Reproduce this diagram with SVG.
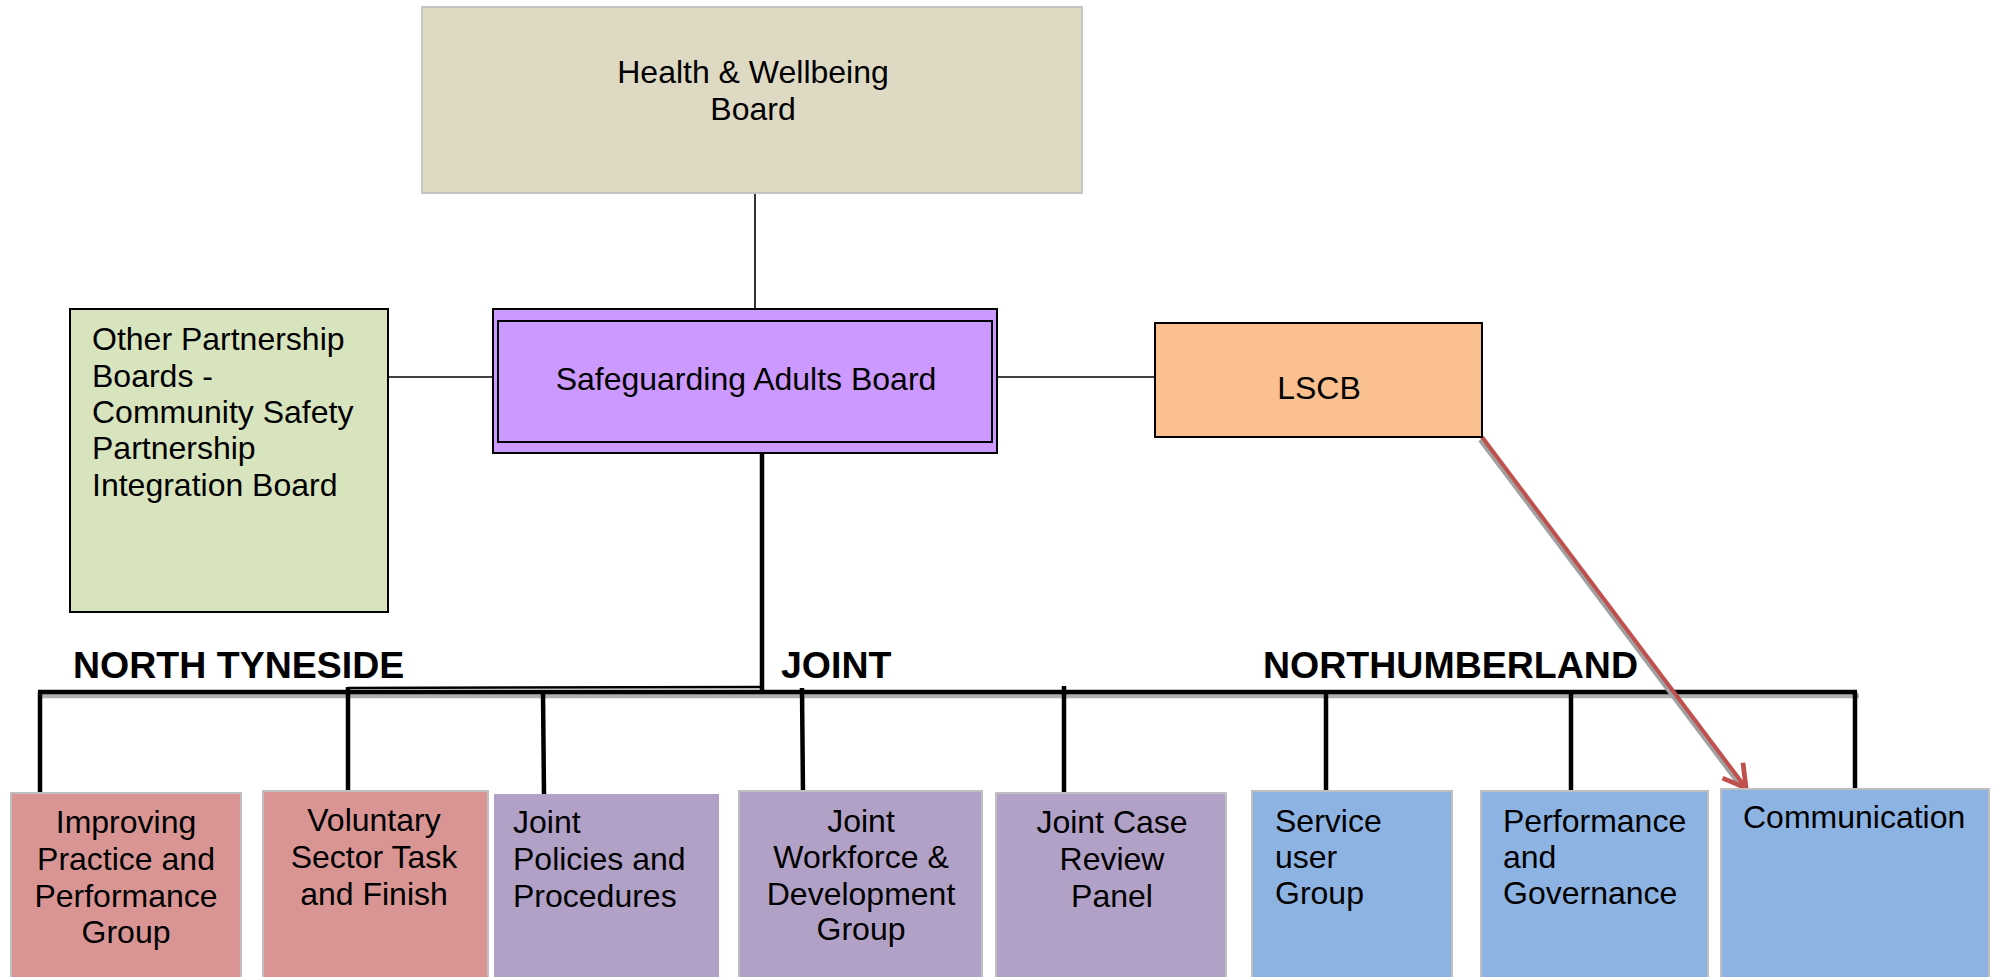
<svg xmlns="http://www.w3.org/2000/svg" width="1997" height="977" viewBox="0 0 1997 977">
<style>
text{font-family:"Liberation Sans",Arial,sans-serif;font-size:32px;fill:#000}
.c{text-anchor:middle}
.h{font-weight:bold;font-size:37.5px}
.top{stroke:#000;stroke-width:2}
.bot{stroke:#BFBFBF;stroke-width:2}
.red{fill:#D99594}
.pur{fill:#B2A1C7}
.blu{fill:#8DB3E2}
.thin{stroke:#000;stroke-width:1.6;fill:none}
.thick{stroke:#000;stroke-width:4.5;fill:none}
.sh{stroke:#B0B0B0;stroke-width:4.5;fill:none}
</style>
<defs>
<marker id="ah" markerWidth="8" markerHeight="8" refX="6" refY="4" orient="auto" markerUnits="strokeWidth">
<path d="M0.5,0.8 L6,4 L0.5,7.2" fill="none" stroke="#C0504D" stroke-width="1.2"/>
</marker>
</defs>
<rect width="1997" height="977" fill="#fff"/>
<g id="connectors">
<line class="thin" x1="755" y1="193" x2="755" y2="309"/>
<line class="thin" x1="388" y1="377" x2="493" y2="377"/>
<line class="thin" x1="997" y1="377" x2="1155" y2="377"/>
<line class="sh" x1="40" y1="696" x2="1859" y2="696"/>
<line class="thick" x1="38" y1="692" x2="1857" y2="692"/>
<line stroke="#000" stroke-width="2.5" x1="348" y1="688" x2="762" y2="687"/>
<line class="thick" x1="762" y1="453" x2="762" y2="690"/>
<line class="thick" x1="40" y1="692" x2="40" y2="793"/>
<line class="thick" x1="348" y1="687" x2="348" y2="795"/>
<line class="thick" x1="543" y1="692" x2="544" y2="795"/>
<line class="thick" x1="802" y1="688" x2="803" y2="795"/>
<line class="thick" x1="1064" y1="686" x2="1064" y2="795"/>
<line class="thick" x1="1326" y1="692" x2="1326" y2="792"/>
<line class="thick" x1="1571" y1="692" x2="1571" y2="792"/>
<line class="thick" x1="1855" y1="692" x2="1855" y2="795"/>
<line stroke="#A0A0A0" stroke-width="4" x1="1480" y1="440" x2="1744" y2="791"/>
<line stroke="#C0504D" stroke-width="4" x1="1482" y1="437" x2="1746" y2="788" marker-end="url(#ah)"/>
</g>
<g id="health">
<rect x="422" y="7" width="660" height="186" fill="#DDD9C3" stroke="#C4C4C4" stroke-width="2"/>
<text class="c" x="753" y="83">Health &amp; Wellbeing</text>
<text class="c" x="753" y="120">Board</text>
</g>
<g id="sab">
<rect class="top" x="493" y="309" width="504" height="144" fill="#CC99FF"/>
<rect class="top" x="498" y="321" width="494" height="121" fill="none"/>
<text class="c" x="746" y="390">Safeguarding Adults Board</text>
</g>
<g id="other">
<rect class="top" x="70" y="309" width="318" height="303" fill="#D7E4BD"/>
<text x="92" y="350">Other Partnership</text>
<text x="92" y="387">Boards -</text>
<text x="92" y="423">Community Safety</text>
<text x="92" y="459">Partnership</text>
<text x="92" y="496">Integration Board</text>
</g>
<g id="lscb">
<rect class="top" x="1155" y="323" width="327" height="114" fill="#FAC090"/>
<text class="c" x="1319" y="399">LSCB</text>
</g>
<g id="labels">
<text class="h" x="73" y="678">NORTH TYNESIDE</text>
<text class="h" x="781" y="678">JOINT</text>
<text class="h" x="1263" y="678">NORTHUMBERLAND</text>
</g>
<g id="improving">
<rect class="bot red" x="11" y="793" width="230" height="190"/>
<text class="c" x="126" y="833">Improving</text>
<text class="c" x="126" y="870">Practice and</text>
<text class="c" x="126" y="907">Performance</text>
<text class="c" x="126" y="943">Group</text>
</g>
<g id="voluntary">
<rect class="bot red" x="263" y="791" width="225" height="190"/>
<text class="c" x="374" y="831">Voluntary</text>
<text class="c" x="374" y="868">Sector Task</text>
<text class="c" x="374" y="905">and Finish</text>
</g>
<g id="policies">
<rect x="494" y="794" width="225" height="190" class="pur"/>
<text x="513" y="833">Joint</text>
<text x="513" y="870">Policies and</text>
<text x="513" y="907">Procedures</text>
</g>
<g id="workforce">
<rect class="bot pur" x="739" y="791" width="243" height="190"/>
<text class="c" x="861" y="832">Joint</text>
<text class="c" x="861" y="868">Workforce &amp;</text>
<text class="c" x="861" y="905">Development</text>
<text class="c" x="861" y="940">Group</text>
</g>
<g id="casereview">
<rect class="bot pur" x="996" y="793" width="230" height="190"/>
<text class="c" x="1112" y="833">Joint Case</text>
<text class="c" x="1112" y="870">Review</text>
<text class="c" x="1112" y="907">Panel</text>
</g>
<g id="serviceuser">
<rect class="bot blu" x="1252" y="791" width="200" height="190"/>
<text x="1275" y="832">Service</text>
<text x="1275" y="868">user</text>
<text x="1275" y="904">Group</text>
</g>
<g id="performance">
<rect class="bot blu" x="1481" y="791" width="227" height="190"/>
<text x="1503" y="832">Performance</text>
<text x="1503" y="868">and</text>
<text x="1503" y="904">Governance</text>
</g>
<g id="communication">
<rect class="bot blu" x="1721" y="789" width="268" height="192"/>
<text x="1743" y="828">Communication</text>
</g>
</svg>
